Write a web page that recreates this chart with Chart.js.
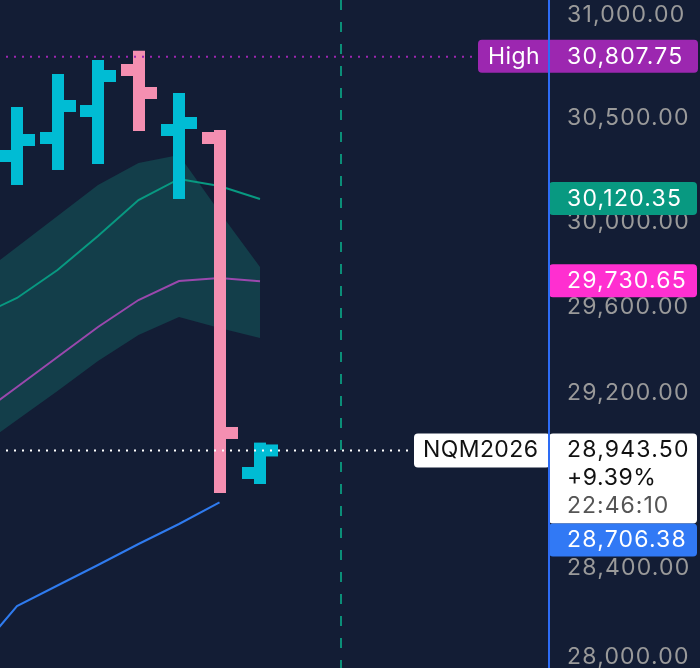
<!DOCTYPE html>
<html>
<head>
<meta charset="utf-8">
<script src="https://cdn.jsdelivr.net/npm/chart.js@4.4.1/dist/chart.umd.min.js"></script>
<style>
  html, body { margin: 0; padding: 0; background: #131d35; }
  canvas { display: block; }
</style>
</head>
<body>
<canvas id="chart" width="700" height="668"></canvas>
<script>
// bars (index on the time axis)
const barIndex = [0, 1, 2, 3, 4, 5, 6];
const opens = [30326.7, 30413.4, 30543.8, 30743.0, 30452.0, 30413.4, 28840.3];
const highs = [30534.2, 30694.3, 30762.5, 30807.75, 30602.0, 30423.0, 28952.0];
const lows = [30216.4, 30288.3, 30317.1, 30476.1, 30149.4, 28776.3, 28817.4];
const closes = [30403.7, 30568.1, 30713.8, 30631.1, 30485.8, 29023.8, 28943.5];

// indicator lines
const lineIndex = [-1, 0, 1, 2, 3, 4, 5, 6];
const bandUpper = [29745.8, 29892.3, 30039.6, 30187.6, 30293.1, 30331.5, 30058.7, 29797.7];
const bandLower = [28950.2, 29083.6, 29217.7, 29356.9, 29478.2, 29562.4, 29510.9, 29464.1];
const tealLine = [29562.4, 29651.6, 29783.6, 29944.5, 30115.9, 30216.4, 30182.8, 30120.35];
const purpleLine = [29097.5, 29236.2, 29375.5, 29515.6, 29642.2, 29731.6, 29745.8, 29730.65];
const blueIndex = [-1, 0, 1, 2, 3, 4, 5];
const blueLine = [28024.4, 28238.5, 28330.4, 28422.6, 28517.4, 28608.0, 28706.38];

const priceTicks = [28000, 28400, 28800, 29200, 29600, 30000, 30500, 31000];
const sessionBreak = 8;
const symbol = 'NQM2026';
const dayHigh = 30807.75;
const lastChange = '+9.39%';
const lastTime = '22:46:10';

const UP = '#00bcd4';
const DOWN = '#f48fb1';
const FONT = 'Inter, "Noto Sans", sans-serif';
const fmt = (v) => v.toLocaleString('en-US', { minimumFractionDigits: 2, maximumFractionDigits: 2 });
const pts = (xs, ys) => xs.map((x, k) => ({ x, y: ys[k] }));

const box = (ctx, x, y, w, h, color) => {
  ctx.fillStyle = color;
  ctx.beginPath();
  ctx.roundRect(x, y, w, h, 4);
  ctx.fill();
};

const label = (ctx, text, x, y, color, spacing) => {
  ctx.letterSpacing = spacing;
  ctx.fillStyle = color;
  ctx.fillText(text, x, y);
};

// session break, ohlc bars, price lines and scale labels
const overlay = {
  id: 'overlay',
  beforeDraw(chart) {
    // wide digits like the original price scale
    chart.ctx.letterSpacing = '1.2px';
  },
  beforeDatasetsDraw(chart) {
    const { ctx, chartArea: { top, bottom }, scales: { x } } = chart;
    const px = Math.round(x.getPixelForValue(sessionBreak));
    ctx.save();
    ctx.strokeStyle = '#0b8f78';
    ctx.lineWidth = 2;
    ctx.setLineDash([10, 12]);
    ctx.beginPath();
    ctx.moveTo(px, top);
    ctx.lineTo(px, bottom);
    ctx.stroke();
    ctx.restore();
  },
  afterDatasetsDraw(chart) {
    const { ctx, chartArea, scales: { x, y } } = chart;
    ctx.save();
    ctx.beginPath();
    ctx.rect(chartArea.left, chartArea.top, chartArea.width, chartArea.height);
    ctx.clip();
    barIndex.forEach((i, k) => {
      const cx = Math.round(x.getPixelForValue(i));
      const yH = y.getPixelForValue(highs[k]);
      const yL = y.getPixelForValue(lows[k]);
      const yO = y.getPixelForValue(opens[k]);
      const yC = y.getPixelForValue(closes[k]);
      ctx.fillStyle = closes[k] >= opens[k] ? UP : DOWN;
      ctx.fillRect(cx - 6, yH - 6, 12, yL - yH + 12);
      ctx.fillRect(cx - 18, yO - 6, 12, 12);
      ctx.fillRect(cx + 6, yC - 6, 12, 12);
    });
    ctx.restore();

    const last = closes[closes.length - 1];
    ctx.save();
    ctx.lineWidth = 2;
    ctx.setLineDash([2, 6]);
    ctx.strokeStyle = '#9c27b0';
    let py = y.getPixelForValue(dayHigh);
    ctx.beginPath();
    ctx.moveTo(6, py);
    ctx.lineTo(478, py);
    ctx.stroke();
    ctx.strokeStyle = '#ffffff';
    py = y.getPixelForValue(last);
    ctx.beginPath();
    ctx.moveTo(6, py);
    ctx.lineTo(414, py);
    ctx.stroke();
    ctx.restore();
  },
  afterDraw(chart) {
    const { ctx, chartArea, scales: { y } } = chart;
    const ax = chartArea.right;
    const tx = ax + 18;
    ctx.save();
    ctx.font = `23px ${FONT}`;
    ctx.textBaseline = 'middle';
    ctx.textAlign = 'left';

    // High
    let cy = y.getPixelForValue(dayHigh);
    box(ctx, 478, cy - 17, 220, 33, '#9c27b0');
    label(ctx, 'High', 488, cy, '#ffffff', '0.4px');
    label(ctx, fmt(dayHigh), tx, cy, '#ffffff', '1.2px');

    // teal & purple line values
    [[tealLine, '#089981'], [purpleLine, '#ff2fd0']].forEach(([arr, color]) => {
      const v = arr[arr.length - 1];
      const c = y.getPixelForValue(v);
      box(ctx, ax, c - 17, 148, 33, color);
      label(ctx, fmt(v), tx, c, '#ffffff', '1.2px');
    });

    // last price
    const last = closes[closes.length - 1];
    cy = y.getPixelForValue(last);
    box(ctx, 414, cy - 17, 136, 34, '#ffffff');
    label(ctx, symbol, 423, cy, '#111111', '0.4px');
    box(ctx, ax, cy - 17, 148, 90, '#ffffff');
    label(ctx, fmt(last), tx, cy, '#111111', '1.2px');
    label(ctx, lastChange, tx, cy + 28, '#111111', '0.6px');
    label(ctx, lastTime, tx, cy + 56, '#555555', '1px');

    // blue line value (pushed under the last price label)
    const bTop = cy + 73;
    box(ctx, ax, bTop, 148, 33, '#3179f5');
    label(ctx, fmt(blueLine[blueLine.length - 1]), tx, bTop + 17, '#ffffff', '1.2px');

    ctx.fillStyle = '#2d6cf5';
    ctx.fillRect(ax - 1, 0, 2, chart.height);
    ctx.restore();
  },
};

const lineDs = (data, color) => ({
  data, borderColor: color, borderWidth: 2, pointRadius: 0, fill: false, order: 1,
});

new Chart(document.getElementById('chart'), {
  type: 'line',
  data: {
    datasets: [
      lineDs(pts(lineIndex, tealLine), '#089981'),
      lineDs(pts(lineIndex, purpleLine), '#9a48ad'),
      lineDs(pts(blueIndex, blueLine), '#2f7bef'),
      {
        data: pts(lineIndex, bandUpper), borderWidth: 0, pointRadius: 0,
        backgroundColor: '#133e4a', fill: '+1', order: 5,
      },
      {
        data: pts(lineIndex, bandLower), borderWidth: 0, pointRadius: 0, fill: false, order: 5,
      },
    ],
  },
  options: {
    responsive: false,
    animation: false,
    devicePixelRatio: 1,
    layout: { padding: 0 },
    plugins: { legend: { display: false }, tooltip: { enabled: false } },
    scales: {
      x: { type: 'linear', min: -0.42, max: 13.136, display: false },
      y: {
        type: 'logarithmic',
        position: 'right',
        min: 27962.3,
        max: 31086.1,
        afterBuildTicks(scale) {
          scale.ticks = priceTicks.map((v) => ({ value: v }));
        },
        afterFit(scale) {
          scale.width = 151;
          scale.paddingTop = 0;
          scale.paddingBottom = 0;
        },
        grid: { display: false, drawTicks: false },
        border: { display: false },
        ticks: {
          autoSkip: false,
          padding: 18,
          labelOffset: -2,
          color: '#9a9a9a',
          font: { family: FONT, size: 23 },
          callback: (v) => fmt(v),
        },
      },
    },
  },
  plugins: [overlay],
});
</script>
</body>
</html>
